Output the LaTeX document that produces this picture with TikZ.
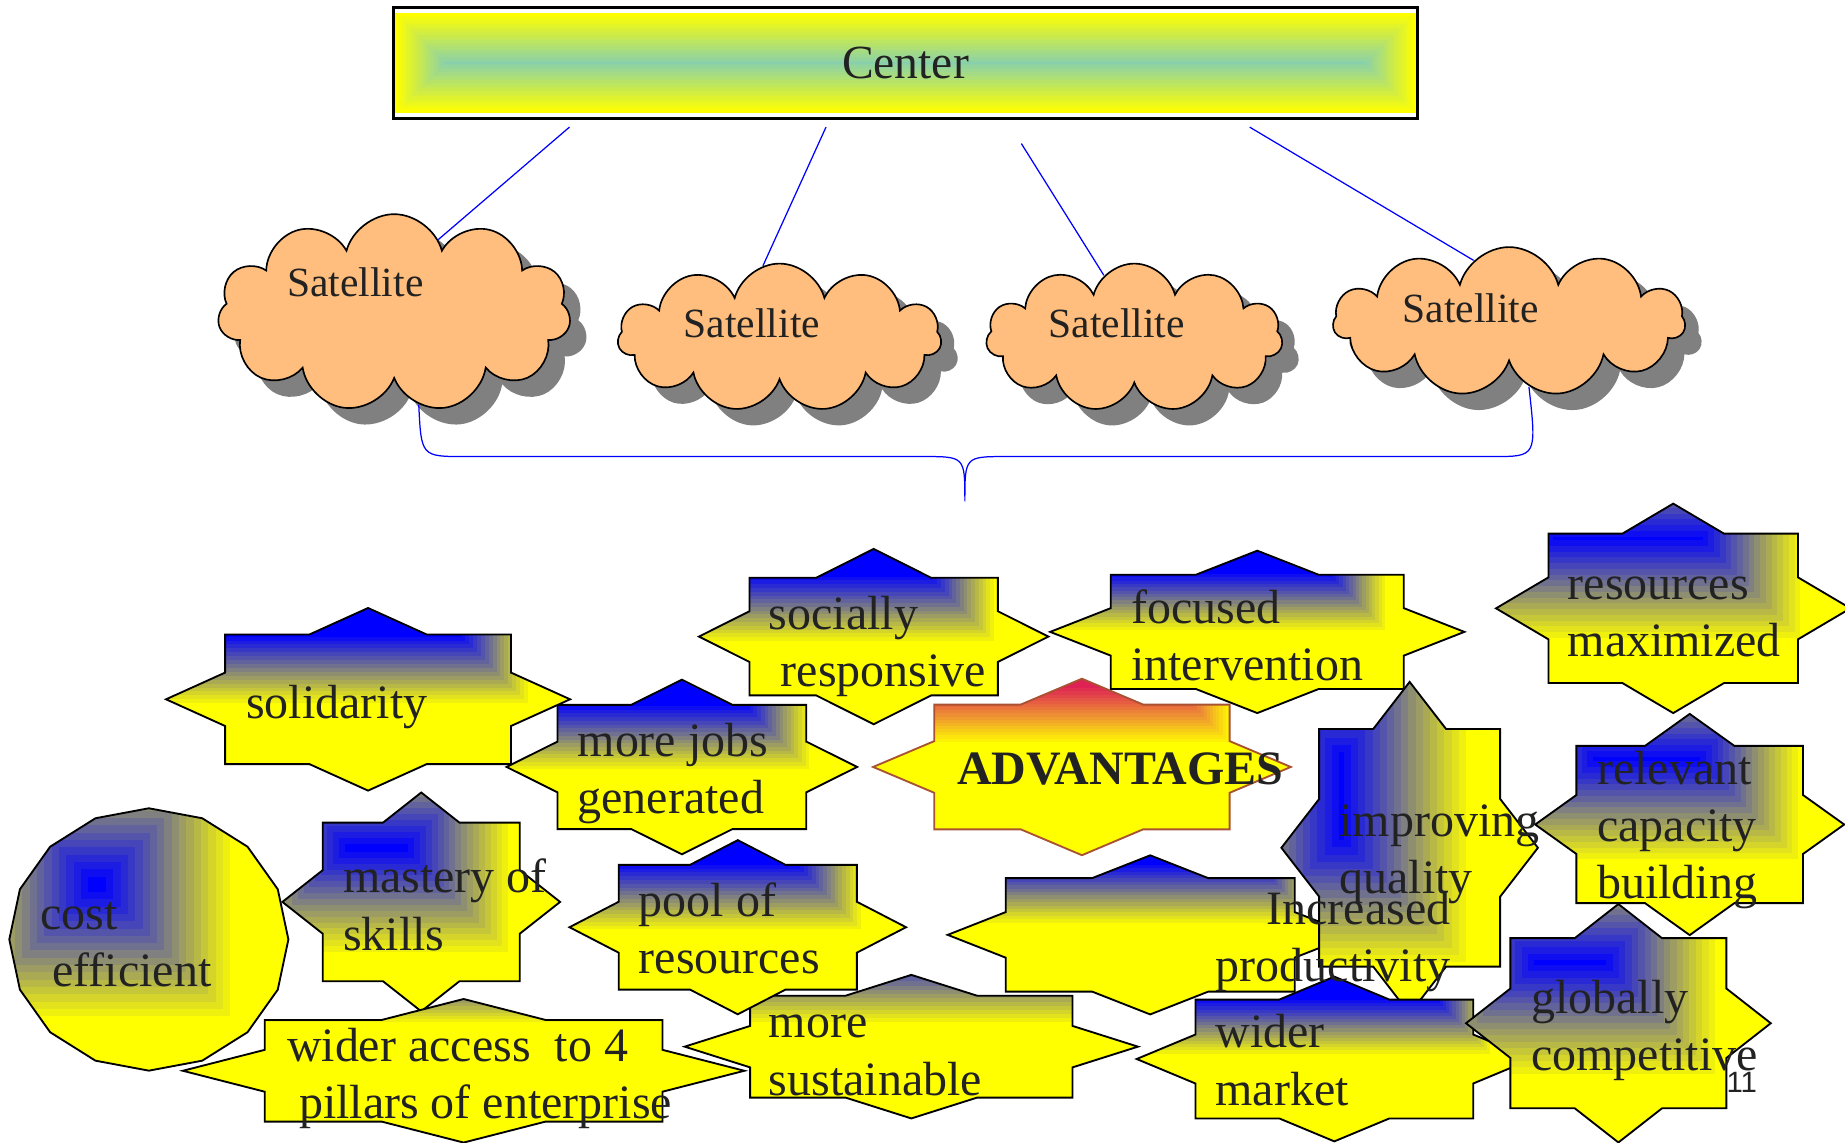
\documentclass[tikz,border=0pt]{standalone}
\usepackage{fontspec}
\setmainfont{Liberation Serif}
\newfontfamily\pagefont{Liberation Sans}
\usetikzlibrary{shapes.symbols, shadows}
\definecolor{blu0}{RGB}{0,0,255}
\definecolor{blu2}{RGB}{255,255,0}
\colorlet{blu1}{blu0!50!blu2}
\definecolor{red0}{RGB}{222,34,84}
\definecolor{red1}{RGB}{238,142,52}
\colorlet{red2}{blu2}
\definecolor{grn0}{RGB}{136,208,172}
\colorlet{grn2}{blu2}
\colorlet{grn1}{grn0!50!grn2}
\definecolor{cloudfill}{RGB}{255,190,125}
\definecolor{ink}{RGB}{34,34,34}
\definecolor{advedge}{RGB}{168,82,50}
\tikzset{
	satellite/.style = {cloud, cloud puffs=11, cloud ignores aspect, draw=black, line width=0.8pt, fill=cloudfill,
		general shadow={fill=gray, shadow xshift=0.28cm, shadow yshift=-0.28cm}},
	sattext/.style = {inner sep=0pt, text=ink, font=\fontsize{20.1}{24}\selectfont},
	link/.style = {draw=blue, line width=0.6pt},
	advtext/.style = {align=left, anchor=base west, inner sep=0pt, text=ink, font=\fontsize{23.2}{27.6}\selectfont},
	blu line/.style = {draw=black, line width=0.9pt},
	red line/.style = {draw=advedge, line width=0.9pt}
}
% rings of colour round a core box: x1 y1 x2 y2 depth scheme
\newcommand{\ringfill}[6]{%
	\foreach \k in {0,...,18} {
		\pgfmathsetmacro{\dd}{(18-\k)*#5/18}
		\pgfmathtruncatemacro{\pp}{200*(18-\k)/18}
		\ifnum\pp>100
			\pgfmathtruncatemacro{\qq}{\pp-100}
			\fill[#62!\qq!#61] ({#1-\dd},{#2-\dd}) rectangle ({#3+\dd},{#4+\dd});
		\else
			\fill[#61!\pp!#60] ({#1-\dd},{#2-\dd}) rectangle ({#3+\dd},{#4+\dd});
		\fi
	}%
}
% box and diamond together: centre, a, b, A, B, scheme, rings
\newcommand{\advstar}[7]{%
	\pgfmathsetmacro{\ux}{#4*(1-#3/#5)}%
	\pgfmathsetmacro{\uy}{#5*(1-#2/#4)}%
	\def\advedge{(0,-#5) -- (\ux,-#3) -- (#2,-#3) -- (#2,-\uy) -- (#4,0) -- (#2,\uy) -- (#2,#3) -- (\ux,#3) -- (0,#5) -- (-\ux,#3) -- (-#2,#3) -- (-#2,\uy) -- (-#4,0) -- (-#2,-\uy) -- (-#2,-#3) -- (-\ux,-#3) -- cycle}%
	\begin{scope}
		\clip[shift={(#1)}] \advedge;
		\fill[#62, shift={(#1)}] \advedge;
		\ringfill#7{#6}
	\end{scope}
	\draw[#6 line, shift={(#1)}] \advedge;
}

\begin{document}
\begin{tikzpicture}[x=0.02cm, y=-0.02cm]
		\useasboundingbox (0,0) rectangle (1568,971);

		%the center and its satellites
		\begin{scope}
			\clip (334,6) rectangle (1205,101);
			\ringfill{378}{53}{1161}{54}{42}{grn}
		\end{scope}
		\node (center) [draw=black, line width=1.4pt, minimum width=17.42cm, minimum height=1.9cm, inner sep=0pt,
			text=ink, font=\fontsize{23}{27}\selectfont] at (769.5,53.5) {Center};
		\node (sat1) [satellite, minimum width=6cm, minimum height=3.36cm] at (335,266) {};
		\node (sat2) [satellite, minimum width=5.5cm, minimum height=2.52cm] at (662.5,287) {};
		\node (sat3) [satellite, minimum width=5.04cm, minimum height=2.52cm] at (964,287) {};
		\node (sat4) [satellite, minimum width=5.98cm, minimum height=2.54cm] at (1282.5,273.5) {};
		\node (sat1txt) [sattext, anchor=base] at (302,252) {Satellite};
		\node (sat2txt) [sattext, anchor=base] at (639,287) {Satellite};
		\node (sat3txt) [sattext, anchor=base] at (949,287) {Satellite};
		\node (sat4txt) [sattext, anchor=base] at (1250,274) {Satellite};

		\coordinate (hub1) at (484,108);
		\coordinate (hub2) at (702,108);
		\coordinate (hub3) at (868,122);
		\coordinate (hub4) at (1062,108);
		\path [link](hub1) -- (sat1.59);
		\path [link](hub2) -- (sat2.103);
		\path [link](hub3) -- (sat3.116);
		\path [link](hub4) -- (sat4.120);
		\path [link](sat1.-75) .. controls (358,388) .. (395,388) -- (785,388) .. controls (820,388) .. (820,426)
			.. controls (820,388) .. (855,388) -- (1269,388) .. controls (1306,388) .. (sat4.-73);

		%the advantages
		\advstar{742.5,541}{105.5}{50}{148.5}{74.5}{blu}{{550}{455}{790}{490}{58}}
		\advstar{1068.5,537}{124.5}{48.5}{176}{69}{blu}{{850}{455}{1130}{488}{50}}
		\advstar{1422,517}{106}{63.5}{150.6}{89}{blu}{{1320}{456}{1447}{459}{88}}
		\advstar{579.5,651.8}{105.7}{52.8}{149}{74.2}{blu}{{400}{570}{634}{600}{57}}
		\advstar{312.8,594.3}{121.5}{55.1}{171.7}{77.6}{blu}{{100}{510}{392}{541}{60}}
		\advstar{919.5,651.8}{125.5}{53}{177.5}{75}{red}{{700}{570}{999}{585}{48}}
		\advstar{358,766.5}{83.7}{67.4}{118}{93}{blu}{{293}{717}{347}{724}{90}}
		\def\costedge{plot[domain=0:15, samples=16] ({126.5+118.6*cos(90+22.5*\x)}, {798.4-111.5*sin(90+22.5*\x)}) -- cycle}
		\begin{scope}
			\clip \costedge;
			\fill[blu2] \costedge;
			\ringfill{75}{745}{90}{758}{112}{blu}
		\end{scope}
		\draw[blu line] \costedge;
		\advstar{774.5,889.5}{137}{43.3}{192.6}{61}{blu}{{550}{790}{900}{810}{62}}
		\advstar{627,788}{101.2}{53}{143}{74}{blu}{{450}{705}{677}{735}{58}}
		\advstar{394,910}{169}{43.2}{238.6}{61}{blu}{{100}{800}{700}{824}{47}}
		\advstar{977.5,794.5}{122.8}{48.2}{172.1}{67.6}{blu}{{780}{700}{1069}{735}{52}}
		\advstar{1198,720.5}{76.9}{101}{109}{141}{blu}{{1138}{639}{1142}{714}{110}}
		\advstar{1436,700.7}{96.3}{66.8}{131.3}{94}{blu}{{1354}{643}{1445}{647}{88}}
		\advstar{1134,900}{118}{50.5}{168}{70}{blu}{{950}{820}{1221}{850}{48}}
		\advstar{1375.4,869.6}{91.8}{72.3}{129.5}{101.3}{blu}{{1304}{816}{1365}{820}{98}}

		%texts of the advantages (base = last line)
		\node (socially) [advtext] at (653,583.6) {socially\\\hspace*{0.25em}responsive};
		\node (focused) [advtext] at (961,578) {focused\\intervention};
		\node (maximized) [advtext] at (1332,558.1) {resources\\maximized};
		\node (jobs) [advtext] at (490.6,691.2) {more jobs\\generated};
		\node (solidarity) [advtext] at (209,610.5) {solidarity};
		\node (advantages) [advtext, font=\fontsize{23.2}{27.6}\selectfont\bfseries] at (813,667.1) {ADVANTAGES};
		\node (mastery) [advtext] at (291.2,807.4) {mastery of\\skills};
		\node (cost) [advtext] at (34,838.5) {cost\\\hspace*{0.25em}efficient};
		\node (sustainable) [advtext] at (653,930.6) {more\\sustainable};
		\node (pool) [advtext] at (542.5,827.2) {pool of\\resources};
		\node (access) [advtext] at (243.6,950.2) {wider access~ to 4\\\hspace*{0.25em}pillars of enterprise};
		\node (productivity) [advtext, align=right, anchor=base east] at (1233,834.3) {Increased\\productivity};
		\node (quality) [advtext] at (1138,759.2) {improving\\quality};
		\node (capacity) [advtext] at (1357,763.4) {relevant\\capacity\\building};
		\node (market) [advtext] at (1032.6,939.1) {wider\\market};
		\node (competitive) [advtext] at (1301,909.4) {globally\\competitive};
		\node (pagenum) [anchor=base west, inner sep=0pt, text=ink, font=\pagefont\fontsize{14.2}{16}\selectfont] at (1467,928.6) {11};
\end{tikzpicture}
\end{document}
